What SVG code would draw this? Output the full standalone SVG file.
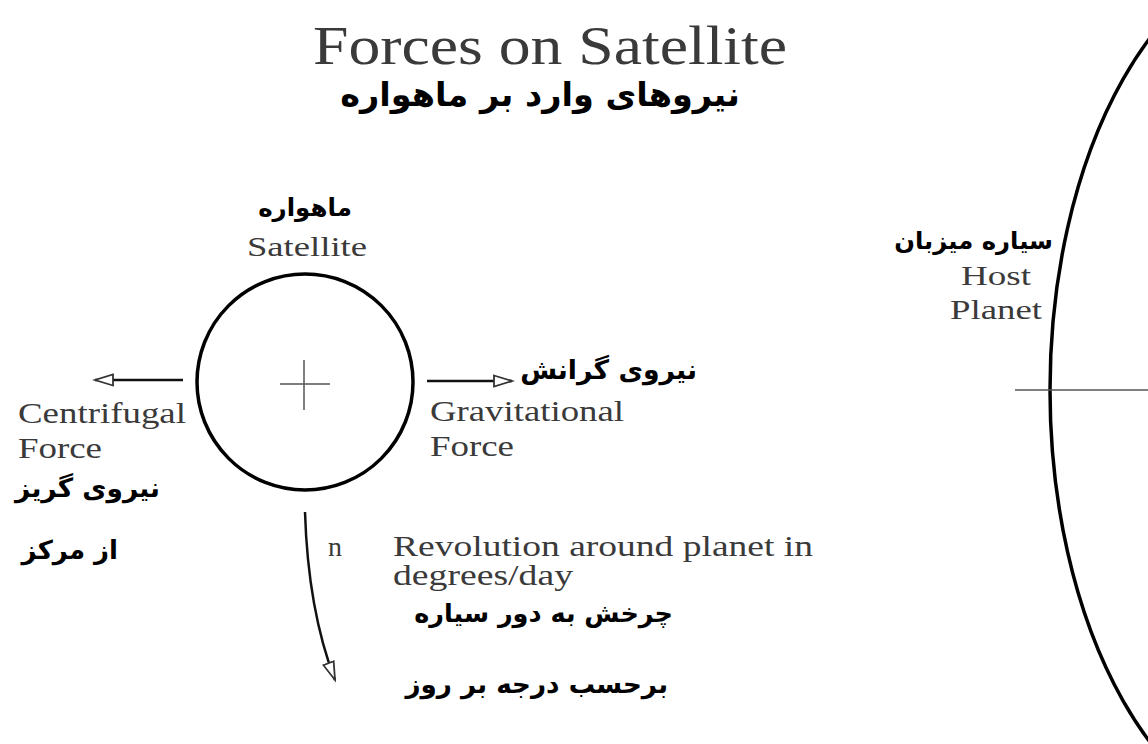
<svg xmlns="http://www.w3.org/2000/svg" width="1148" height="744" viewBox="0 0 1148 744">
<style>
.en{font-family:"Liberation Serif","Times New Roman",serif;fill:#3a3a3a}
.fa{font-family:"DejaVu Sans","Noto Sans",sans-serif;font-weight:bold;fill:#000}
.thick{fill:none;stroke:#000;stroke-width:3.5}
.thin{fill:none;stroke:#555;stroke-width:1.5}
.arr{fill:none;stroke:#111;stroke-width:2.5}
</style>
<defs>
<marker id="ah" markerWidth="22" markerHeight="14" refX="19" refY="7" orient="auto" markerUnits="userSpaceOnUse">
<path d="M1,1.5 L19,7 L1,12.5 Z" fill="#fff" stroke="#333" stroke-width="1.8"/>
</marker>
</defs>
<rect width="1148" height="744" fill="#fff"/>
<g id="title">
<text class="en" x="550" y="64" font-size="54" text-anchor="middle" textLength="474" lengthAdjust="spacingAndGlyphs">Forces on Satellite</text>
<text class="fa" x="540" y="106" font-size="33.5" text-anchor="middle">نیروهای وارد بر ماهواره</text>
</g>
<g id="satellite">
<circle class="thick" cx="305" cy="382" r="108"/>
<path class="thin" d="M280 384 H330 M304 360 V410"/>
<text class="fa" x="305" y="216" font-size="24.5" text-anchor="middle">ماهواره</text>
<text class="en" x="307" y="256" font-size="27" text-anchor="middle" textLength="120" lengthAdjust="spacingAndGlyphs">Satellite</text>
</g>
<g id="planet">
<ellipse class="thick" cx="1300" cy="390" rx="250" ry="440"/>
<path class="thin" d="M1015 390 H1148"/>
<text class="fa" x="1053" y="249" font-size="24.3" text-anchor="end">سیاره میزبان</text>
<text class="en" x="996" y="285" font-size="27" text-anchor="middle" textLength="70" lengthAdjust="spacingAndGlyphs">Host</text>
<text class="en" x="996" y="319" font-size="27" text-anchor="middle" textLength="92" lengthAdjust="spacingAndGlyphs">Planet</text>
</g>
<g id="centrifugal">
<text class="en" x="18" y="423" font-size="29" textLength="168" lengthAdjust="spacingAndGlyphs">Centrifugal</text>
<text class="en" x="18" y="458" font-size="29" textLength="84" lengthAdjust="spacingAndGlyphs">Force</text>
<text class="fa" x="160" y="497" font-size="26.4" text-anchor="end">نیروی گریز</text>
<text class="fa" x="118" y="559" font-size="26" text-anchor="end">از مرکز</text>
</g>
<g id="gravitational">
<text class="fa" x="697" y="379" font-size="26.7" text-anchor="end">نیروی گرانش</text>
<text class="en" x="430" y="421" font-size="29" textLength="194" lengthAdjust="spacingAndGlyphs">Gravitational</text>
<text class="en" x="430" y="456" font-size="29" textLength="84" lengthAdjust="spacingAndGlyphs">Force</text>
</g>
<g id="revolution">
<text class="en" x="328" y="556" font-size="28">n</text>
<text class="en" x="393" y="556" font-size="29" textLength="420" lengthAdjust="spacingAndGlyphs">Revolution around planet in</text>
<text class="en" x="393" y="585" font-size="29" textLength="180" lengthAdjust="spacingAndGlyphs">degrees/day</text>
<text class="fa" x="673" y="622" font-size="25.5" text-anchor="end">چرخش به دور سیاره</text>
<text class="fa" x="668" y="693" font-size="26.2" text-anchor="end">برحسب درجه بر روز</text>
</g>
<g id="connectors">
<path class="arr" d="M183 380 H95" marker-end="url(#ah)"/>
<path class="arr" d="M427 381 H512" marker-end="url(#ah)"/>
<path class="arr" d="M305 512 Q308 610 335 680" marker-end="url(#ah)"/>
</g>
</svg>
